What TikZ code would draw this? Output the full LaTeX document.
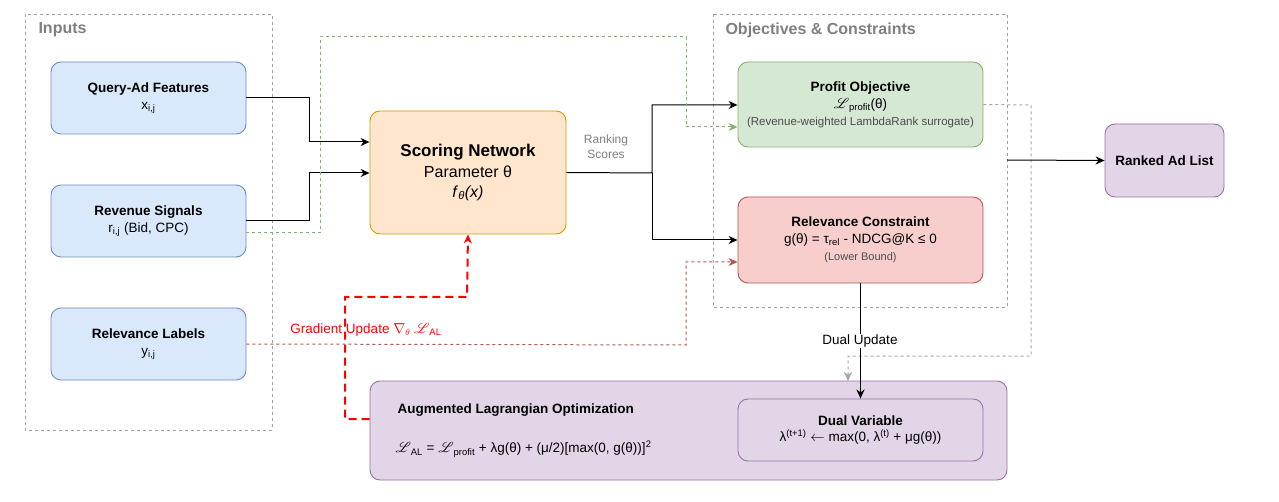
\documentclass[tikz,border=0pt]{standalone}
\usepackage{fontspec}
\usepackage{mathrsfs}
\setmainfont{Liberation Sans}
\usetikzlibrary{arrows.meta}
\definecolor{bfill}{HTML}{DAE8FC}\definecolor{bline}{HTML}{6C8EBF}
\definecolor{ofill}{HTML}{FFE6CC}\definecolor{oline}{HTML}{D79B00}
\definecolor{gfill}{HTML}{D5E8D4}\definecolor{gline}{HTML}{82B366}
\definecolor{rfill}{HTML}{F8CECC}\definecolor{rline}{HTML}{B85450}
\definecolor{pfill}{HTML}{E1D5E7}\definecolor{pline}{HTML}{9673A6}
\definecolor{frame}{HTML}{A0A0A0}\definecolor{ttl}{HTML}{7F7F7F}
\newcommand{\scrL}{$\mathscr{L}$}
\newcommand{\fs}[1]{\fontsize{#1pt}{\dimexpr #1pt*5/4\relax}\selectfont}
\begin{document}
\begin{tikzpicture}[x=1pt,y=-1pt,
  box/.style={draw,rounded corners=10pt,line width=0.9pt,align=center,font=\fs{13.5}},
  frm/.style={draw=frame,dashed,line width=0.8pt},
  arr/.style={-{Stealth[length=9pt,width=8pt]},line width=1pt},
  lbl/.style={font=\bfseries\fs{16},text=ttl,anchor=west}]
\useasboundingbox (0,0) rectangle (1279,502);
\draw[frm] (25,14) rectangle (272,430);
\node[lbl] (tin) at (35,30) {Inputs};
\draw[frm] (713,14) rectangle (1007,307);
\node[lbl] (tob) at (722,30) {Objectives \& Constraints};
\node[box,fill=bfill,draw=bline,minimum width=195pt,minimum height=72pt] (q) at (148.5,98) {\textbf{Query-Ad Features}\\x\textsubscript{i,j}};
\node[box,fill=bfill,draw=bline,minimum width=195pt,minimum height=72pt] (r) at (148.5,221) {\textbf{Revenue Signals}\\r\textsubscript{i,j} (Bid, CPC)};
\node[box,fill=bfill,draw=bline,minimum width=195pt,minimum height=72pt] (l) at (148.5,344) {\textbf{Relevance Labels}\\y\textsubscript{i,j}};
\node[box,fill=ofill,draw=oline,minimum width=196pt,minimum height=123pt,font=\fs{16}] (s) at (468,172.5) {\textbf{\fs{17}Scoring Network}\\Parameter θ\\\textit{f}\textsubscript{\textit{θ}}\textit{(x)}};
\node[box,fill=gfill,draw=gline,minimum width=245pt,minimum height=85pt] (p) at (860.5,104.5) {\textbf{Profit Objective}\\\scrL\textsubscript{profit}(θ)\\{\fs{11.5}\color{black!70}(Revenue-weighted LambdaRank surrogate)}};
\node[box,fill=rfill,draw=rline,minimum width=245pt,minimum height=86pt] (c) at (860.5,240) {\textbf{Relevance Constraint}\\g(θ) = τ\textsubscript{rel} - NDCG@K ≤ 0\\{\fs{11}\color{black!70}(Lower Bound)}};
\node[box,fill=pfill,draw=pline,minimum width=119pt,minimum height=73pt] (k) at (1164.5,160.5) {\textbf{Ranked Ad List}};
\node[box,fill=pfill,draw=pline,minimum width=637pt,minimum height=99pt] (a) at (688.5,430.5) {};
\node[font=\fs{13.5},anchor=west] (at) at (394,410) {\textbf{Augmented Lagrangian Optimization}};
\node[font=\fs{13.5},anchor=west] (af) at (392,449) {\scrL\textsubscript{AL} = \scrL\textsubscript{profit} + λg(θ) + (μ/2)[max(0, g(θ))]\textsuperscript{2}};
\node[box,fill=pfill,draw=pline,minimum width=245pt,minimum height=62pt] (d) at (860.5,430) {\textbf{Dual Variable}\\λ\textsuperscript{(t+1)} $\leftarrow$ max(0, λ\textsuperscript{(t)} + μg(θ))};
% connectors
\draw[arr] (q.east) -- (309,98) -- (309,142) -- (s.west |- 0,142);
\draw[arr] (r.east) -- (309,221) -- (309,173) -- (s.west |- 0,173);
\draw[arr] (s.east) -- (652,173) -- (652,105) -- (p.west |- 0,105);
\draw[arr] (652,173) -- (652,240) -- (c.west);
\node[font=\fs{12},text=ttl,align=center] (rs) at (606,147) {Ranking\\Scores};
\draw[arr,draw=gline,dashed] (246,233) -- (320,233) -- (320,37) -- (686,37) -- (686,127) -- (p.west |- 0,127);
\draw[arr,draw=rline,dashed] (l.east) -- (686,345) -- (686,262) -- (c.west |- 0,262);
\draw[arr,draw=red,line width=2pt,dash pattern=on 8pt off 5pt] (a.west |- 0,419) -- (345,419) -- (345,297) -- (467,297) -- (s.south);
\node[font=\fs{13.5},text=red] (gu) at (366,330) {Gradient Update $\nabla_\theta$ \scrL\textsubscript{AL}};
\draw[arr,draw=gray!70,dashed] (p.east) -- (1031,105) -- (1031,356) -- (848,356) -- (848,381);
\draw[arr,line width=1.6pt] (c.south) -- (d.north);
\node[font=\fs{13.5},fill=white,inner sep=1pt] (du) at (860,341) {Dual Update};
\draw[arr] (1007,160) -- (k.west);
\end{tikzpicture}
\end{document}
